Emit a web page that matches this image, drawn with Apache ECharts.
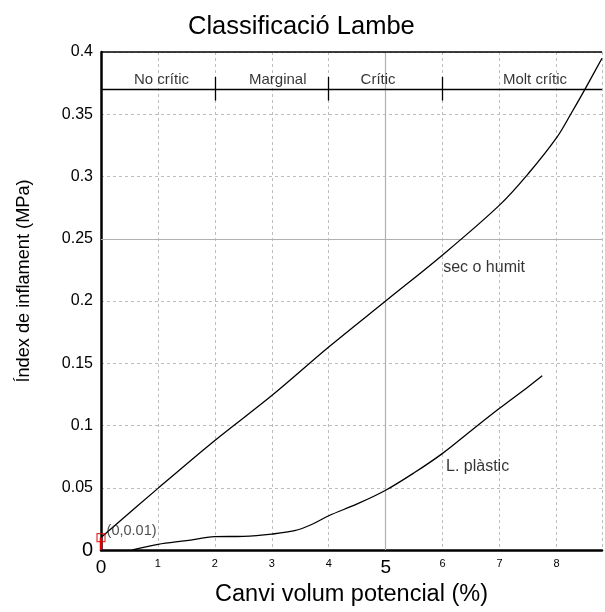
<!DOCTYPE html>
<html>
<head>
<meta charset="utf-8">
<script src="https://cdn.jsdelivr.net/npm/echarts@6/dist/echarts.min.js"></script>
<style>
html,body{margin:0;padding:0;background:#fff;}
#chart{width:605px;height:612px;}
</style>
</head>
<body>
<div id="chart"></div>
<script>
// ---- data ----
const dryX = [0, 1, 2, 3, 4, 5, 6, 7, 7.5, 8, 8.25, 8.5, 8.8];
const dryY = [0.01, 0.0495, 0.088, 0.124, 0.163, 0.2, 0.237, 0.277, 0.302, 0.331, 0.35, 0.37, 0.395];
const plasX = [0.55, 1, 1.5, 2, 2.5, 3, 3.4, 3.7, 4, 4.5, 5, 5.5, 6, 6.5, 7, 7.5, 7.75];
const plasY = [0, 0.0045, 0.0075, 0.0107, 0.011, 0.0128, 0.0155, 0.0205, 0.0275, 0.037, 0.048, 0.062, 0.0776, 0.0958, 0.1138, 0.131, 0.14];
const curveNames = ['sec o humit', 'L. plàstic'];
const curveLabelX = [6.01, 6.06];
const curveLabelY = [0.2265, 0.0667];
const zoneNames = ['No crític', 'Marginal', 'Crític', 'Molt crític'];
const zoneLabelX = [0.58, 2.6, 4.56, 7.06];
const zoneLabelY = 0.3775;
const zoneBounds = [2, 4, 6];
const zoneLevel = 0.37;
const zoneTickLow = 0.361, zoneTickHigh = 0.38;
const pointX = 0, pointY = 0.01;
const pointLabel = '(0,0.01)';
const xMin = 0, xMax = 8.8, xStep = 1;
const yMin = 0, yMax = 0.4, yStep = 0.05;
const highlightX = 5, highlightY = 0.25;

const FONT = 'Liberation Sans, Arial, sans-serif';
const chart = echarts.init(document.getElementById('chart'), null, {renderer: 'canvas'});

const zip = (xs, ys) => xs.map((x, i) => [x, ys[i]]);

const option = {
  animation: false,
  backgroundColor: '#fff',
  textStyle: {fontFamily: FONT},
  title: {
    text: 'Classificació Lambe',
    left: 183, top: 9,
    textStyle: {fontFamily: FONT, fontSize: 25.5, fontWeight: 'normal', color: '#000'}
  },
  grid: {left: 101, right: 0, top: 52, bottom: 62, containLabel: false},
  xAxis: {
    type: 'value', min: xMin, max: xMax, interval: xStep,
    name: 'Canvi volum potencial (%)', nameLocation: 'middle', nameGap: 33,
    nameTextStyle: {fontFamily: FONT, fontSize: 23.5, color: '#000'},
    axisLine: {show: true, onZero: false, lineStyle: {color: '#000', width: 2.5}},
    axisTick: {show: false},
    axisLabel: {
      margin: 8, color: '#000', fontFamily: FONT,
      formatter: v => {
        if (v === 0 || v === 5) return '{b|' + v + '}';
        return Number.isInteger(v) ? '{s|' + v + '}' : '';
      },
      rich: {b: {fontSize: 19, fontFamily: FONT, color: '#000'}, s: {fontSize: 11, fontFamily: FONT, color: '#000'}}
    },
    splitLine: {show: true, lineStyle: {color: '#bdbdbd', type: [3, 3], width: 1}}
  },
  yAxis: {
    type: 'value', min: yMin, max: yMax, interval: yStep,
    name: 'Índex de inflament (MPa)', nameLocation: 'middle', nameGap: 68,
    nameTextStyle: {fontFamily: FONT, fontSize: 18.2, color: '#000', padding: [0, 0, 0, 40]},
    axisLine: {show: true, onZero: false, lineStyle: {color: '#000', width: 2.5}},
    axisTick: {show: false},
    axisLabel: {
      margin: 8, color: '#000', fontFamily: FONT, fontSize: 16,
      formatter: v => {
        const s = String(parseFloat(v.toFixed(2)));
        return v === 0 ? '{b|0}' : s;
      },
      rich: {b: {fontSize: 20, fontFamily: FONT, color: '#000'}}
    },
    splitLine: {show: true, lineStyle: {color: '#bdbdbd', type: [3, 3], width: 1}}
  },
  series: [
    {
      name: 'frame', type: 'line', data: [], silent: true,
      markLine: {
        silent: true, symbol: 'none', label: {show: false}, animation: false,
        data: [
          {xAxis: highlightX, lineStyle: {color: '#b0b0b0', type: 'solid', width: 1.2}},
          {yAxis: highlightY, lineStyle: {color: '#b0b0b0', type: 'solid', width: 1.2}},
          {yAxis: yMax, lineStyle: {color: '#000', type: 'solid', width: 1.5}},
          {yAxis: zoneLevel, lineStyle: {color: '#000', type: 'solid', width: 1.3}}
        ].concat(zoneBounds.map(b => [
          {coord: [b, zoneTickLow], lineStyle: {color: '#000', type: 'solid', width: 1.3}},
          {coord: [b, zoneTickHigh]}
        ]))
      }
    },
    {
      name: curveNames[0], type: 'line', data: zip(dryX, dryY),
      showSymbol: false, smooth: 0.35,
      lineStyle: {color: '#000', width: 1.3}, z: 5
    },
    {
      name: curveNames[1], type: 'line', data: zip(plasX, plasY),
      showSymbol: false, smooth: 0.35,
      lineStyle: {color: '#000', width: 1.3}, z: 5
    },
    {
      name: 'stem', type: 'line', data: [[pointX, 0], [pointX, pointY]],
      showSymbol: false, clip: false, lineStyle: {color: '#e00000', width: 2.5}, z: 6
    },
    {
      name: 'point', type: 'scatter', data: [[pointX, pointY]], clip: false,
      symbol: 'rect', symbolSize: 8,
      itemStyle: {color: 'rgba(0,0,0,0)', borderColor: '#e00000', borderWidth: 1.2},
      label: {show: true, position: 'right', distance: 1, offset: [0, -7],
        formatter: pointLabel, fontFamily: FONT, fontSize: 14.5, color: '#222'},
      z: 7
    },
    {
      name: 'curveLabels', type: 'scatter', symbolSize: 0,
      data: curveNames.map((n, i) => ({name: n, value: [curveLabelX[i], curveLabelY[i]]})),
      label: {show: true, position: 'right', distance: 0, formatter: p => p.name,
        fontFamily: FONT, fontSize: 16, color: '#000'},
      z: 8
    },
    {
      name: 'zoneLabels', type: 'scatter', symbolSize: 0,
      data: zoneNames.map((n, i) => ({name: n, value: [zoneLabelX[i], zoneLabelY]})),
      label: {show: true, position: 'right', distance: 0, formatter: p => p.name,
        fontFamily: FONT, fontSize: 15, color: '#000'},
      z: 8
    }
  ]
};
chart.setOption(option);
</script>
</body>
</html>
